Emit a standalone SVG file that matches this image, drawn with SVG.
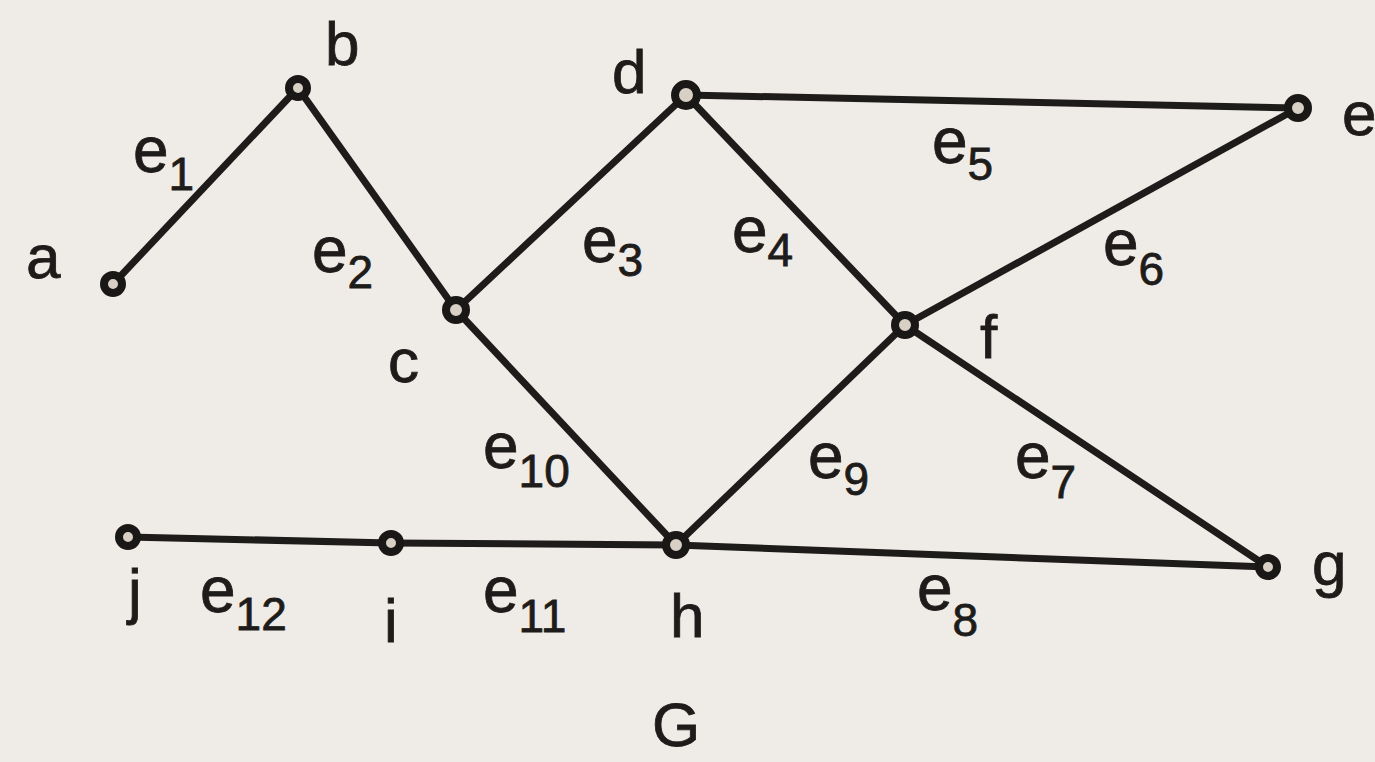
<svg xmlns="http://www.w3.org/2000/svg" width="1375" height="762" viewBox="0 0 1375 762">
<style>
.edge{stroke:#1e1c1a;stroke-width:7;stroke-linecap:round;fill:none}
.node{fill:#d8d0c4;stroke:#1a1816;stroke-width:8}
.lbl{font-family:"Liberation Sans",Arial,sans-serif;font-size:62px;fill:#1e1c1a;stroke:#1e1c1a;stroke-width:0.8}
.el{font-family:"Liberation Sans",Arial,sans-serif;font-size:64px;fill:#1e1c1a;stroke:#1e1c1a;stroke-width:0.8}
.sub{font-size:46px}
</style>
<rect width="1375" height="762" fill="#efebe6"/>
<g id="connectors">
<line class="edge" x1="113" y1="284" x2="298" y2="88"/>
<line class="edge" x1="298" y1="88" x2="456" y2="310"/>
<line class="edge" x1="456" y1="310" x2="686" y2="95"/>
<line class="edge" x1="686" y1="95" x2="905" y2="325"/>
<line class="edge" x1="686" y1="95" x2="1298" y2="108"/>
<line class="edge" x1="905" y1="325" x2="1298" y2="108"/>
<line class="edge" x1="905" y1="325" x2="1268" y2="567"/>
<line class="edge" x1="676" y1="545" x2="1268" y2="567"/>
<line class="edge" x1="676" y1="545" x2="905" y2="325"/>
<line class="edge" x1="456" y1="310" x2="676" y2="545"/>
<line class="edge" x1="391" y1="543" x2="676" y2="545"/>
<line class="edge" x1="128" y1="537" x2="391" y2="543"/>
</g>
<g id="edge-labels">
<text class="el" x="133" y="172">e<tspan class="sub" dy="18">1</tspan></text>
<text class="el" x="312" y="272">e<tspan class="sub" dy="16">2</tspan></text>
<text class="el" x="582" y="262">e<tspan class="sub" dy="14">3</tspan></text>
<text class="el" x="732" y="252">e<tspan class="sub" dy="14">4</tspan></text>
<text class="el" x="932" y="163">e<tspan class="sub" dy="17">5</tspan></text>
<text class="el" x="1103" y="265">e<tspan class="sub" dy="20">6</tspan></text>
<text class="el" x="1015" y="478">e<tspan class="sub" dy="20">7</tspan></text>
<text class="el" x="917" y="610">e<tspan class="sub" dy="26">8</tspan></text>
<text class="el" x="808" y="478">e<tspan class="sub" dy="17">9</tspan></text>
<text class="el" x="483" y="468">e<tspan class="sub" dy="19">10</tspan></text>
<text class="el" x="483" y="612">e<tspan class="sub" dy="20">11</tspan></text>
<text class="el" x="200" y="612">e<tspan class="sub" dy="18">12</tspan></text>
</g>
<g id="node-a"><circle class="node" cx="113" cy="284" r="9"/><text class="lbl" x="26" y="278">a</text></g>
<g id="node-b"><circle class="node" cx="298" cy="88" r="9"/><text class="lbl" x="325" y="65">b</text></g>
<g id="node-c"><circle class="node" cx="456" cy="310" r="10"/><text class="lbl" x="388" y="382">c</text></g>
<g id="node-d"><circle class="node" cx="686" cy="95" r="11"/><text class="lbl" x="612" y="93">d</text></g>
<g id="node-e"><circle class="node" cx="1298" cy="108" r="10"/><text class="lbl" x="1342" y="135">e</text></g>
<g id="node-f"><circle class="node" cx="905" cy="325" r="10"/><text class="lbl" x="980" y="358">f</text></g>
<g id="node-g"><circle class="node" cx="1268" cy="567" r="9"/><text class="lbl" x="1312" y="585">g</text></g>
<g id="node-h"><circle class="node" cx="676" cy="545" r="10"/><text class="lbl" x="670" y="637">h</text></g>
<g id="node-i"><circle class="node" cx="391" cy="543" r="9"/><text class="lbl" x="384" y="642">i</text></g>
<g id="node-j"><circle class="node" cx="128" cy="537" r="9"/><text class="lbl" x="128" y="612">j</text></g>
<text class="lbl" x="652" y="746" font-size="60">G</text>
</svg>
